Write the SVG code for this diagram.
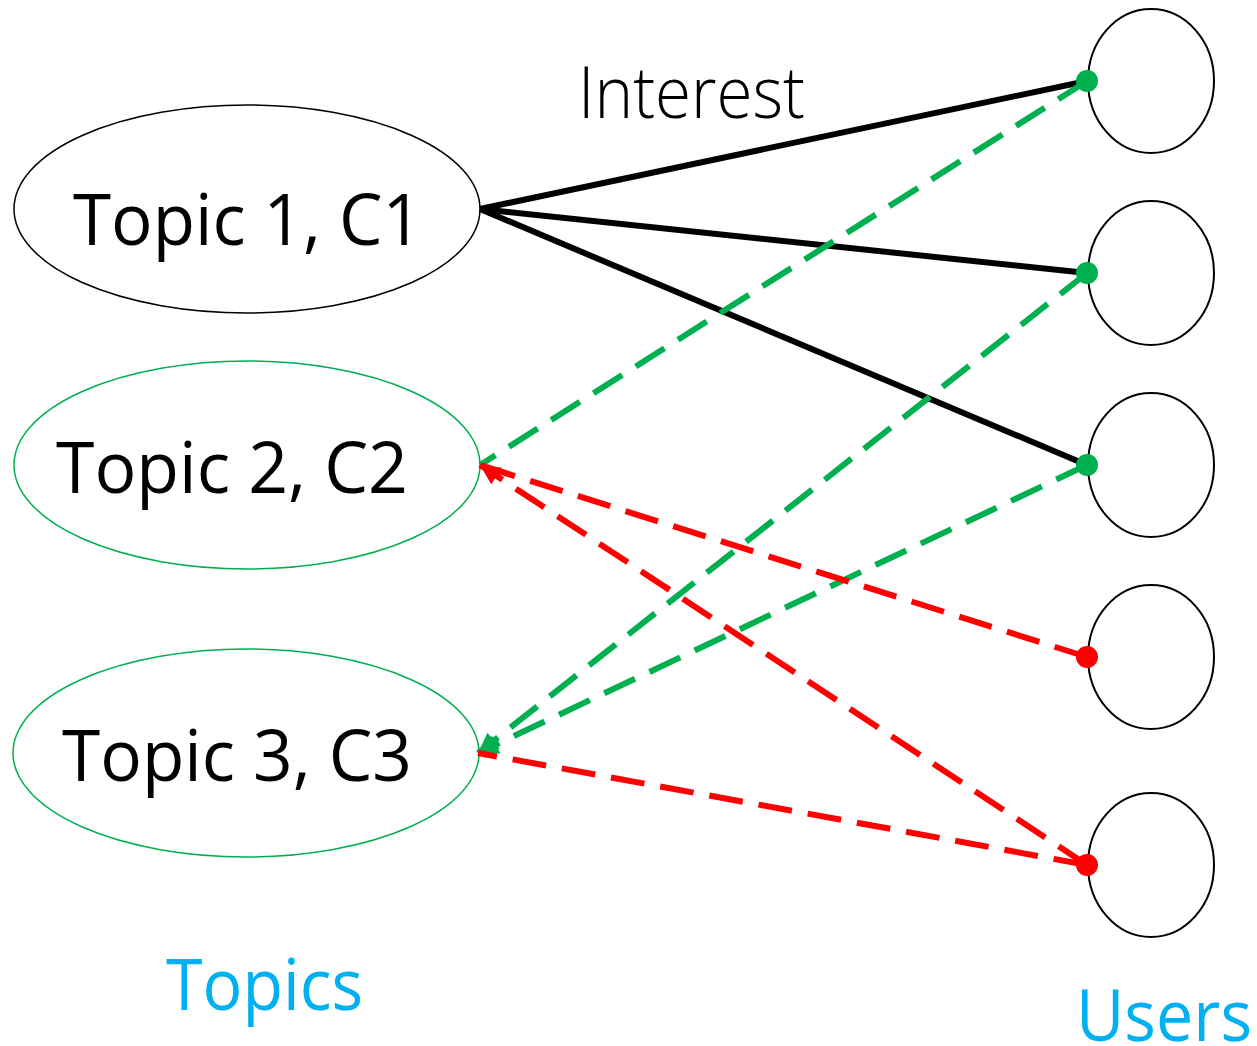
<svg xmlns="http://www.w3.org/2000/svg" width="1257" height="1046" viewBox="0 0 1257 1046">
<style>
.lbl{font-family:"Open Sans","Liberation Sans",sans-serif;font-size:72px;fill:#000}
.cap{font-family:"Open Sans","Liberation Sans",sans-serif;font-size:72px;fill:#00B0F0}
.user{fill:#fff;stroke:#000;stroke-width:2}
.solid{stroke:#000;stroke-width:6;fill:none}
.g{stroke:#00B050;stroke-width:6;fill:none;stroke-dasharray:34 16}
.r{stroke:#FF0000;stroke-width:6;fill:none;stroke-dasharray:34 16}
</style>
<defs>
<marker id="ag" viewBox="0 0 10 10" refX="10" refY="5" markerWidth="26" markerHeight="20" orient="auto" markerUnits="userSpaceOnUse"><path d="M0,0 L10,5 L0,10 z" fill="#00B050"/></marker>
<marker id="ar" viewBox="0 0 10 10" refX="10" refY="5" markerWidth="26" markerHeight="20" orient="auto" markerUnits="userSpaceOnUse"><path d="M0,0 L10,5 L0,10 z" fill="#FF0000"/></marker>
</defs>
<g id="topic1"><ellipse cx="247" cy="209" rx="233" ry="104" fill="#fff" stroke="#000" stroke-width="1.5"/><text class="lbl" x="73" y="245" textLength="349" lengthAdjust="spacingAndGlyphs">Topic 1, C1</text></g>
<g id="topic2"><ellipse cx="247" cy="465" rx="233" ry="104" fill="#fff" stroke="#00B050" stroke-width="1.5"/><text class="lbl" x="56" y="493" textLength="352" lengthAdjust="spacingAndGlyphs">Topic 2, C2</text></g>
<g id="topic3"><ellipse cx="246" cy="753" rx="233" ry="104" fill="#fff" stroke="#00B050" stroke-width="1.5"/><text class="lbl" x="62" y="781" textLength="350" lengthAdjust="spacingAndGlyphs">Topic 3, C3</text></g>
<g id="user1"><ellipse class="user" cx="1151" cy="81" rx="63" ry="72"/></g>
<g id="user2"><ellipse class="user" cx="1151" cy="273" rx="63" ry="72"/></g>
<g id="user3"><ellipse class="user" cx="1151" cy="465" rx="63" ry="72"/></g>
<g id="user4"><ellipse class="user" cx="1151" cy="657" rx="63" ry="72"/></g>
<g id="user5"><ellipse class="user" cx="1151" cy="865" rx="63" ry="72"/></g>
<g id="connectors">
<line class="solid" x1="480" y1="209" x2="1087" y2="81"/>
<line class="solid" x1="480" y1="209" x2="1087" y2="273"/>
<line class="solid" x1="480" y1="209" x2="1087" y2="465"/>
<line class="g" x1="1087" y1="81" x2="480" y2="465"/>
<line class="g" x1="1087" y1="273" x2="478" y2="753" marker-end="url(#ag)"/>
<line class="g" x1="1087" y1="465" x2="478" y2="753" marker-end="url(#ag)"/>
<line class="r" x1="1087" y1="657" x2="480" y2="465"/>
<line class="r" x1="1087" y1="865" x2="480" y2="465" marker-end="url(#ar)"/>
<line class="r" x1="1087" y1="865" x2="478" y2="753"/>
<circle cx="1087" cy="81" r="11" fill="#00B050"/>
<circle cx="1087" cy="273" r="11" fill="#00B050"/>
<circle cx="1087" cy="465" r="11" fill="#00B050"/>
<circle cx="1087" cy="657" r="11" fill="#FF0000"/>
<circle cx="1087" cy="865" r="11" fill="#FF0000"/>
<text class="lbl" x="578" y="118" style="font-weight:300" textLength="227" lengthAdjust="spacingAndGlyphs">Interest</text>
</g>
<text class="cap" x="166" y="1010" textLength="197" lengthAdjust="spacingAndGlyphs">Topics</text>
<text class="cap" x="1076" y="1041" textLength="176" lengthAdjust="spacingAndGlyphs">Users</text>
</svg>
